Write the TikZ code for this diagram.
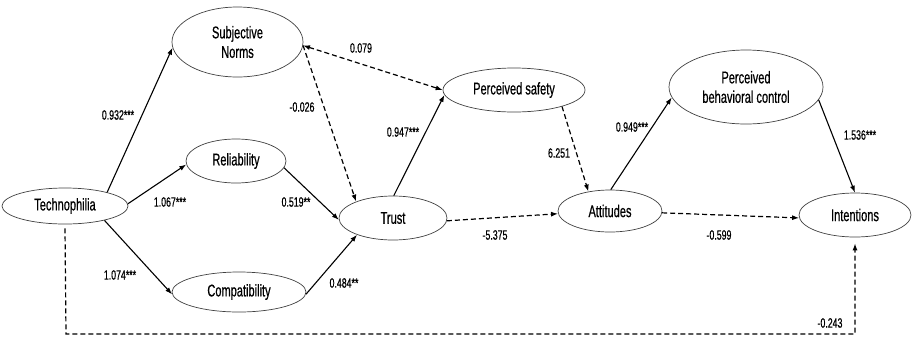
\documentclass[tikz,border=0pt]{standalone}
\usepackage{fontspec}
\setmainfont{Liberation Sans}[FakeStretch=0.65,FakeBold=0.6]
\usetikzlibrary{arrows.meta,shapes.geometric}
\begin{document}
\begin{tikzpicture}[x=1pt,y=-1pt,
  ell/.style={draw=black!75, line width=0.7pt, ellipse, inner sep=0pt, align=center,
              font=\fontsize{17}{19.5}\selectfont},
  lbl/.style={font=\fontsize{13.5}{15}\selectfont, inner sep=0pt},
  sol/.style={line width=1.1pt, -{Latex[length=7pt,width=5pt]}},
  dsh/.style={sol, line width=1.2pt, dash pattern=on 5pt off 3pt}]
\useasboundingbox (0,0) rectangle (912,338);

% nodes
\node[ell, minimum width=131pt, minimum height=70pt] (sn) at (237.5,42) {Subjective\\Norms};
\node[ell, minimum width=100pt, minimum height=44pt] (rel) at (236,161) {Reliability};
\node[ell, minimum width=126pt, minimum height=36pt] (tech) at (65,206) {Technophilia};
\node[ell, minimum width=134pt, minimum height=40pt] (comp) at (239,292) {Compatibility};
\node[ell, minimum width=108pt, minimum height=44pt] (trust) at (393,218) {Trust};
\node[ell, minimum width=142pt, minimum height=44pt] (ps) at (514,90) {Perceived safety};
\node[ell, minimum width=104pt, minimum height=42pt] (att) at (610,211) {Attitudes};
\node[ell, minimum width=154pt, minimum height=74pt] (pbc) at (746,87) {Perceived\\behavioral control};
\node[ell, minimum width=112pt, minimum height=44pt] (int) at (855,215) {Intentions};

\coordinate (c1) at (66,334);
\coordinate (c2) at (855,334);

% connectors
\draw[sol] (tech.18) -- (sn.185);
\draw[sol] (tech.2) -- (rel.184);
\draw[sol] (tech.340) -- (comp.182);
\draw[sol] (rel.352) -- (trust.182);
\draw[sol] (comp.358) -- (trust.205);
\draw[dsh] (sn.357) -- (trust.156);
\draw[dsh, {Latex[length=7pt,width=5pt]}-{Latex[length=7pt,width=5pt]}] (sn.357) -- (ps.180);
\draw[sol] (trust.88) -- (ps.184);
\draw[dsh] (ps.341) -- (att.138);
\draw[dsh] (trust.357) -- (att.183);
\draw[sol] (att.88) -- (pbc.188);
\draw[sol] (pbc.350) -- (int.90);
\draw[dsh] (att.358) -- (int.183);
\draw[dsh] ([yshift=-4pt]tech.south) -- (c1) -- (c2) -- ([yshift=-6pt]int.south);

% labels
\node[lbl] (l1) at (118,115) {0.932***};
\node[lbl] (l2) at (170,202) {1.067***};
\node[lbl] (l3) at (120,275) {1.074***};
\node[lbl] (l4) at (296,202) {0.519**};
\node[lbl] (l5) at (344,283) {0.484**};
\node[lbl] (l6) at (302,107) {-0.026};
\node[lbl] (l7) at (361,48) {0.079};
\node[lbl] (l8) at (403,132) {0.947***};
\node[lbl] (l9) at (559,153) {6.251};
\node[lbl] (l10) at (495,235) {-5.375};
\node[lbl] (l11) at (632,127) {0.949***};
\node[lbl] (l12) at (860,135) {1.536***};
\node[lbl] (l13) at (719,235) {-0.599};
\node[lbl] (l14) at (830,323) {-0.243};
\end{tikzpicture}
\end{document}
